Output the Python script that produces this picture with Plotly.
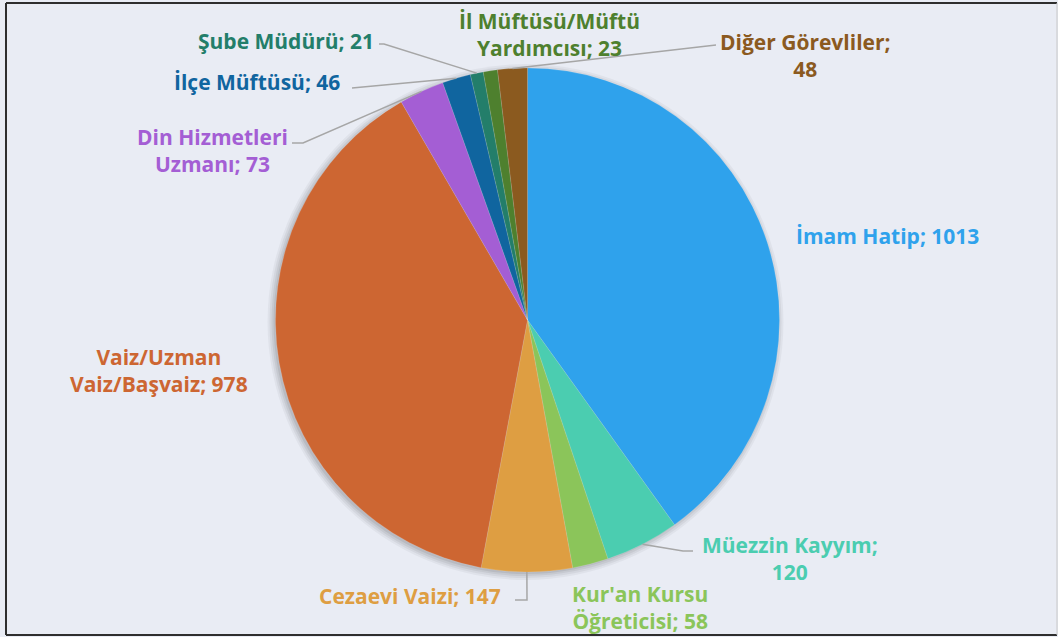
import math
import plotly.graph_objects as go

# ---- data ----
categories = ["İmam Hatip", "Müezzin Kayyım", "Kur'an Kursu Öğreticisi", "Cezaevi Vaizi",
              "Vaiz/Uzman Vaiz/Başvaiz", "Din Hizmetleri Uzmanı", "İlçe Müftüsü",
              "Şube Müdürü", "İl Müftüsü/Müftü Yardımcısı", "Diğer Görevliler"]
values = [1013, 120, 58, 147, 978, 73, 46, 21, 23, 48]
label_texts = ["İmam Hatip; 1013", "Müezzin Kayyım;<br>120", "Kur'an Kursu<br>Öğreticisi; 58",
               "Cezaevi Vaizi; 147", "Vaiz/Uzman<br>Vaiz/Başvaiz; 978", "Din Hizmetleri<br>Uzmanı; 73",
               "İlçe Müftüsü; 46", "Şube Müdürü; 21", "İl Müftüsü/Müftü<br>Yardımcısı; 23",
               "Diğer Görevliler;<br>48"]

# ---- style ----
colors = ["#2FA2EC", "#4BCDB0", "#8BC55A", "#DE9E42", "#CD6632",
          "#A45ED4", "#10659F", "#237E6A", "#4E802E", "#8B5A1F"]
W, H = 1058, 637
BG = "#E9ECF4"
CX, CY, R = 527.5, 320, 252
# label block centres (pixels) and leader-line start points (None = no line)
label_pos = [(887, 236), (790, 558), (640, 607), (410, 596), (159, 370),
             (212, 150), (257, 82), (286, 41), (549, 34), (805, 55)]
leader_start = [None, [(693, 551), (683, 551)], None, [(515, 600), (527, 600)], None,
                [(292, 143), (303, 143)], [(352, 88)], [(379, 44), (384, 44)], None, [(716, 45)]]


def px(x):
    return x / W


def py(y):
    return 1 - y / H


fig = go.Figure()
fig.add_trace(go.Pie(
    labels=categories, values=values, sort=False, direction="clockwise", rotation=0,
    marker=dict(colors=colors, line=dict(color="rgba(255,255,255,0.25)", width=0.5)),
    textinfo="none", hoverinfo="label+value", showlegend=False,
    domain=dict(x=[0, 2 * CX / W], y=[py(CY + R), py(CY - R)]),
))

shapes = []
# frame
shapes.append(dict(type="line", xref="paper", yref="paper", x0=px(6), x1=px(1057), y0=py(3), y1=py(3),
                   line=dict(color="#2E2E2E", width=2)))
shapes.append(dict(type="line", xref="paper", yref="paper", x0=px(6), x1=px(6), y0=py(3), y1=py(635),
                   line=dict(color="#2E2E2E", width=2)))
shapes.append(dict(type="line", xref="paper", yref="paper", x0=px(6), x1=px(1057), y0=py(635), y1=py(635),
                   line=dict(color="#2E2E2E", width=2)))
shapes.append(dict(type="line", xref="paper", yref="paper", x0=px(1057), x1=px(1057), y0=py(3), y1=py(635),
                   line=dict(color="#C8C8C8", width=1)))
# soft shadow behind pie
for i, a in enumerate([0.04, 0.05, 0.06, 0.07]):
    rr = R + 6 - 2 * i
    shapes.append(dict(type="circle", xref="paper", yref="paper", layer="below",
                       x0=px(CX - rr - 2), x1=px(CX + rr - 2), y0=py(CY + rr + 2), y1=py(CY - rr + 2),
                       fillcolor=f"rgba(0,0,0,{a})", line=dict(width=0)))

# leader lines: end at the rim, at the middle angle of each slice
total = sum(values)
cum = 0
for i, v in enumerate(values):
    mid = (cum + v / 2) / total * 2 * math.pi
    cum += v
    if leader_start[i] is None:
        continue
    ex, ey = CX + R * math.sin(mid), CY - R * math.cos(mid)
    pts = leader_start[i] + [(ex, ey)]
    path = "M " + " L ".join(f"{px(x):.5f},{py(y):.5f}" for x, y in pts)
    shapes.append(dict(type="path", xref="paper", yref="paper", path=path,
                       line=dict(color="#A6A6A6", width=1.5)))

annotations = []
for i, t in enumerate(label_texts):
    x, y = label_pos[i]
    annotations.append(dict(text=t, x=px(x), y=py(y), xref="paper", yref="paper",
                            xanchor="center", yanchor="middle", align="center", showarrow=False,
                            font=dict(family="Open Sans", size=21, color=colors[i], weight=700)))

fig.update_layout(
    width=W, height=H, margin=dict(l=0, r=0, t=0, b=0),
    paper_bgcolor=BG, plot_bgcolor=BG,
    shapes=shapes, annotations=annotations,
)
fig.write_html("out.html", config={"displayModeBar": False},
               post_script="document.body.style.margin='0';document.body.style.overflow='hidden';"
                           "document.body.style.background='" + BG + "';")
